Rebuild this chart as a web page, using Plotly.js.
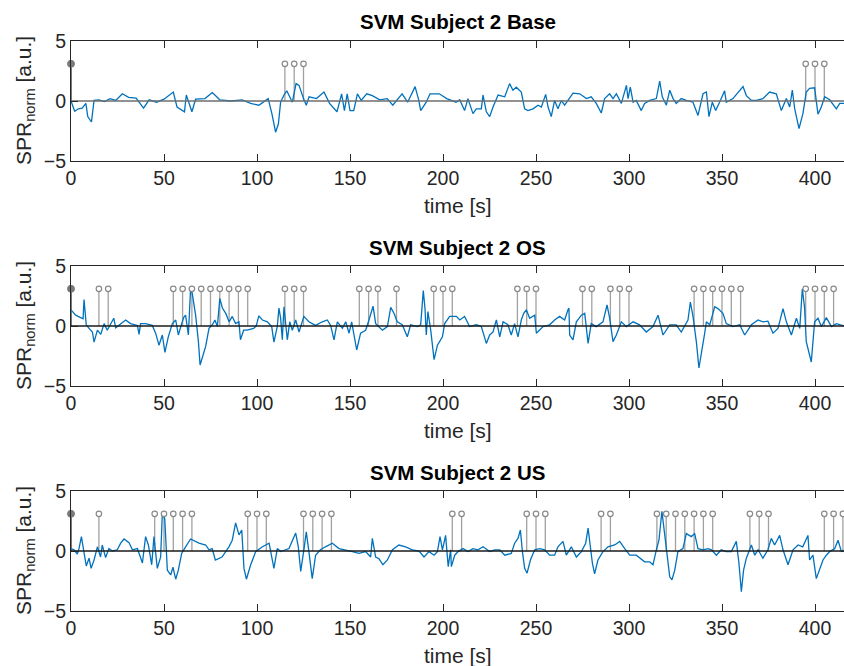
<!DOCTYPE html>
<html>
<head>
<meta charset="utf-8">
<script src="https://cdn.plot.ly/plotly-3.0.1.min.js"></script>
<style>html,body{margin:0;padding:0;background:#fff;}#chart{width:844px;height:666px;}</style>
</head>
<body>
<div id="chart"></div>
<script>
// ---------- data ----------
var titles = ["SVM Subject 2 Base", "SVM Subject 2 OS", "SVM Subject 2 US"];
var xTicks = [0, 50, 100, 150, 200, 250, 300, 350, 400];
var yTicks = [-5, 0, 5];
var stemHeight = 3.1;

// Subject 2 Base
var t1 = [0,2,4,6,8,9,11,12.4,15,18,21,24,27.6,31,35,39,42,46,50,55,57,61,62,65,67,72,76,80,86,92,96.6,101,106,108,110,111.5,112.7,114.5,116,119,121,122.6,125,126.5,128,132,136,139,143,145.5,147,148.5,150,152,154,156,159,162,166,170,173,176,178,181,185,187,188,191,193,198,202,207,
  209,211.6,213.4,216.1,217.9,220.6,221.5,223.3,225.1,226.9,229.6,233.2,235.8,237.6,239.4,242.1,243.9,245.7,248.4,251.1,252.9,255.2,256.5,258.2,260,261.8,263.6,265.4,269.9,273.5,277.1,279.7,282.4,285.1,286.9,289.6,291.4,293.2,295.9,298.6,299.5,300.7,302.2,303.9,306.6,308.4,311.1,314.7,316.5,317.9,320.1,321.9,323.7,325.4,328.1,330.8,334.4,337.1,339.8,341.6,343,344.8,346.6,348.7,351.4,352.3,355.9,361.3,363.1,365.8,368.5,372,375.6,379.2,381.9,384.6,386.4,387.8,389.1,391.4,393.5,395.3,397.1,399.8,401.6,403.4,405.2,407.9,411.5,413.3,415.6];
var v1 = [0,-0.85,-0.65,-0.6,-0.2,-1.3,-1.75,0.05,0.1,-0.05,0.2,0.05,0.6,0.3,0.25,-0.6,0.1,-0.1,0.15,0.75,-0.5,-0.9,0.5,-0.9,0.15,0.2,0.7,0.1,0,0.1,-0.2,-0.35,0.2,-1.05,-2.6,-1.9,-0.1,0.5,0.85,-0.1,1.45,1.3,0.2,-0.35,0.35,0.2,0.75,-0.2,-0.9,0.6,-0.8,0.6,-0.8,-0.8,0.6,0.05,0.6,0.45,0.1,0.2,-0.35,0.2,0.6,-0.1,1.2,0.05,-0.8,-0.1,0.6,0.6,0.2,-0.1,
  0.1,-0.8,0.2,-1.05,-0.65,-0.65,0.5,-0.9,-1.3,-0.5,0.5,0.35,1.45,0.9,1.15,0.75,-0.65,-0.8,-0.65,-0.35,-0.5,0.55,-0.5,-1.3,0.05,-0.65,0.05,-0.35,0.65,0.6,0.2,0.35,-0.2,-1.0,0.2,0.6,0.2,0.6,-0.2,1.3,0.2,1.15,-0.1,0.05,-0.8,-0.2,0.05,0.2,1.65,0.35,-0.35,0.9,0.2,-0.2,0.2,0.05,-0.1,-1.2,0.6,0.75,-1.3,-0.1,-0.8,-0.1,0.85,-0.1,0.2,1.2,0.45,0.05,0.05,0.2,0.75,0.6,-0.8,0.2,-0.5,0.9,-0.65,-2.3,-1.05,0.75,1.05,1.1,-1.1,-0.5,0.35,0.1,-0.65,-0.2,-0.2];
var stems1 = [0, 115, 120, 125, 395, 400, 405];

// Subject 2 OS
var t2 = [0,2.5,5.2,6.5,7,8.2,9.7,11.5,12.4,14.2,16,17.8,19.5,21.3,23,24,26.7,29.4,32,35.7,36.6,37.4,40.1,43.7,45.5,47.3,49.1,50.5,52.3,54.5,56.3,57.7,59.5,60.7,61.6,63.1,64.3,65.2,67,68.5,69.4,71,72.4,74.2,76,77.4,78.7,80,81.4,83.2,85,86.7,88.5,90.3,91.1,92.8,94.6,98.2,99.6,101,102.9,105.6,107.9,109.1,110.9,111.8,112.7,113.6,114.5,116.3,117.6,119,120.8,122.6,125.2,127.9,131.5,135.1,137.8,139.6,141.4,143.2,145.9,147.7,149.5,150.9,153.6,155.7,158.4,160.2,162.4,163.8,165.6,167.4,170.1,171.9,173.7,175.4,178.1,180.8,182.6,186.2,188,189.4,190.3,191,191.9,193.4,195.2,197,199.7,
  200.9,203.6,207.2,209,211.6,214.3,217.9,220.6,223.3,225.1,226.9,228.7,230.5,232.3,234.9,236.7,238.5,240.3,242.1,243.4,244.8,246.6,249.3,250.2,253.8,257.3,260,262.7,265.4,267.2,267.7,268.1,269.9,271.7,274.4,276.2,278,279.7,282.4,286,288.2,289.6,291.4,293.2,295.9,298.6,302.2,305.7,309.3,312.9,315.6,318.3,321.9,325.4,328.1,331.7,333,334.4,336.2,337.6,338.9,340.7,341.6,343.4,346.1,347.8,350.5,352.3,355.9,359.5,362.2,365.8,369.4,372,374.7,377.4,380.1,382.8,384.6,387.3,390,391.8,393.2,394.4,395.3,396.7,398,399.8,401.6,403.4,406.1,408.8,411.5,415.6];
var v2 = [1.35,0.9,0.7,0.6,2.2,0.1,-0.2,-0.5,-1.35,-0.35,-0.7,0.2,-0.35,0.2,0.65,-0.15,0.2,0.5,0.2,0.05,-0.7,0.2,0.2,0.05,-0.6,-1.6,-0.75,-2.2,-0.9,0.2,0.5,-0.75,0.2,0.75,0.9,-0.75,3.15,2.7,0.9,-1.3,-3.25,-2.4,-1.7,-0.2,0.1,0.5,-0.05,2.3,1.5,1.05,0.35,0.8,0.2,0.35,-1.15,-0.35,-0.35,-0.2,0,0.85,0.5,0.35,-0.05,-1.35,-0.05,1.5,0.65,-1.15,1.6,-1.15,0.35,-0.35,0.5,-0.5,0.8,0.35,0.05,0.35,0.5,0.05,-1.15,0.35,-0.2,0.35,-0.6,0.35,-2.0,-0.6,-0.35,0.5,1.65,0.2,-0.05,-0.35,-0.05,1.55,1.05,0.35,0.1,-0.9,0.1,-0.05,0.1,2.95,1.5,-0.75,1.2,-0.35,-2.8,-1.6,-0.9,
  0.2,0.8,0.8,0.5,0.8,-0.05,0.1,-0.05,-1.45,-0.75,-0.5,0.5,-0.9,0.35,0.1,-0.75,0.2,-0.9,0.5,1.05,1.35,0.65,0.9,-0.6,-0.05,0.1,0.5,0.8,0.5,1.35,1.5,-0.75,-1.15,0.35,0.9,1.05,-1.45,0.2,-0.05,0.35,1.75,0.65,-1.3,-0.75,0.35,-0.05,0.35,0.1,-0.5,-0.05,0.9,-0.75,0.1,0.1,-0.5,0.5,2.0,0.8,-1.3,-3.5,-2.4,-0.6,0.35,0.1,1.6,1.45,1.05,0.2,-0.05,0.1,-0.75,0.1,0.5,0.35,0.4,-0.6,-0.2,1.45,0.35,-0.75,0.65,-0.2,3.1,1.5,-1.3,-2.15,-3.0,0.35,0.65,-0.05,0.7,-0.05,0.2,0];
var stems2 = [0,15,20,55,60,65,70,75,80,85,90,95,115,120,125,155,160,165,175,195,200,205,240,245,250,275,280,290,295,300,335,340,345,350,355,360,395,400,405,410];

// Subject 2 US
var t3 = [0,1.6,3.4,4.3,5.6,7,8.2,9.7,10.8,12.4,14.2,15.9,16.8,18.6,20.4,22.2,24.9,26.7,28.5,31.2,33,35.7,38.4,40.1,41.6,43.4,44.6,46.4,48.2,49.1,50.4,51.8,53.6,54.8,56.3,57.7,59.5,61.6,64.3,68.8,72.4,74.2,75.9,77.6,81.2,84.9,86.7,88.5,90.3,91.8,93,94.3,96.6,99.3,102.9,106.5,109.1,110.9,112.7,117.2,120.8,122.2,123.5,125.3,126.5,127.9,129.7,131.5,134.1,136.8,140.5,144.1,147.7,151.3,154.8,158.4,161.1,162,163.8,165.6,167.7,170.1,172.8,176.3,179.9,183.5,187.1,189.8,192.5,195.2,197,198.4,199.7,201.4,202.8,204.1,
  204.5,206.3,208.1,210.8,213.4,216.1,218.8,221.5,225.1,227.8,230.5,233.2,236.7,238.5,240.3,241.6,242.7,243.9,245.2,247,249.3,252,254.7,257.3,260,261.8,264.5,266.3,269,271.7,274.4,276.7,278,279.2,280.3,281.5,283.3,286,288.7,292.3,295,297.7,300.4,303.9,305.7,308.4,311.1,312.9,314.7,316.1,317.7,319.2,320.6,321.9,323.1,324.6,326.3,329,330.8,333.5,335.3,337.1,339.8,342.5,344.3,347,349.6,352.3,355,357.7,359.1,360.4,361.6,363.1,365.8,367.6,369.4,372,374.7,376.5,378.3,381,382.8,385.5,388.2,390.9,393.4,396.2,397.1,398.9,400.7,402.5,404.3,406.1,407.9,410.6,412.4,414.2,415.6];
var v3 = [0.2,0.1,-0.25,0.2,1.2,-0.05,-1.25,-0.6,-1.45,-0.75,0.35,-0.5,0.5,-0.55,0.2,0,0.1,0.65,1.0,0.7,0.1,0.2,-1.0,1.2,0.5,-1.15,1.2,-1.45,-0.5,3.1,2.7,-1.6,-2.0,-1.35,-2.35,-1.6,-0.2,0.35,1.0,0.65,0.5,0.1,0.2,-0.75,-0.5,0.35,0.9,2.35,1.35,1.75,-1.45,-2.35,-1.15,-0.05,0.35,0.65,-1.45,0.2,-0.05,0.2,1.5,0.35,-1.7,0.2,1.6,-0.05,-2.3,-0.35,0.1,0.35,0.65,0.2,0.1,-0.05,-0.2,-0.05,-0.5,1.05,-0.5,-0.65,-1.15,-0.75,0.1,0.5,0.35,0.1,0,-0.5,-0.05,-0.35,-0.05,1.2,0.1,1.3,-1.3,0.1,
  -1.3,-0.35,-0.05,0.2,-0.05,0.2,0.1,0.35,-0.05,0.1,0.1,-0.35,-0.2,0.65,1.05,1.75,-0.05,-1.45,-1.85,-0.75,0.1,0.2,0.1,-0.35,-0.35,0.35,0.8,-0.35,0.35,-0.5,-0.05,0.65,1.9,0.1,-1.0,-1.9,-0.75,-0.05,0.35,0.5,0.8,0.2,-0.35,-0.35,-0.6,-0.9,-0.9,-1.15,0.1,0.9,3.3,1.2,-0.5,-2.15,-2.4,-1.6,-0.05,0.2,1.45,1.2,1.45,0.2,0.1,0.2,0.1,-0.35,0.1,-0.05,-0.05,0.8,-1.0,-3.4,-1.6,-0.6,0.5,-0.35,0.1,-0.6,0.1,1.05,0.5,1.3,0.1,-1.15,0.1,0.5,0.35,1.3,-0.75,-0.35,-2.3,-1.6,-0.75,-0.35,-0.05,0.2,0.9,-0.05,0];
var stems3 = [0,15,45,50,55,60,65,95,100,105,125,130,135,140,205,210,245,250,255,285,290,315,320,325,330,335,340,345,365,370,375,405,410,415];

// ---------- drawing ----------
(function () {
  var tSeries = [t1, t2, t3];
  var vSeries = [v1, v2, v3];
  var stemSeries = [stems1, stems2, stems3];
  var baseColors = ["#6e6e6e", "#1a1a1a", "#1a1a1a"];

  var FONT = "Liberation Sans, Arial, Helvetica, sans-serif";
  var INK = "#262626";
  var W = 844, H = 666, ML = 71, MR = 0, MT = 41, MB = 55;
  var plotH = H - MT - MB;
  var boxTops = [41, 266, 491], boxH = 120;

  var traces = [];
  var layout = {
    width: W, height: H,
    margin: {l: ML, r: MR, t: MT, b: MB, pad: 0},
    paper_bgcolor: "#fff", plot_bgcolor: "#fff",
    showlegend: false,
    font: {family: FONT, size: 17, color: INK},
    annotations: []
  };

  for (var k = 0; k < 3; k++) {
    var sfx = k === 0 ? "" : String(k + 1);
    var xa = "x" + sfx, ya = "y" + sfx;
    var yTop = boxTops[k], yBot = yTop + boxH;
    var d0 = (H - MB - yBot) / plotH, d1 = (H - MB - yTop) / plotH;
    var xMax = (W - ML - MR) / 1.86;

    layout["xaxis" + sfx] = {
      domain: [0, 1], range: [0, xMax], anchor: ya,
      tickvals: xTicks, ticks: "inside", ticklen: 7, tickwidth: 1, tickcolor: INK,
      showline: true, linecolor: INK, linewidth: 1, mirror: "ticks",
      showgrid: false, zeroline: false,
      tickfont: {family: FONT, size: 19.5, color: INK}
    };
    layout["yaxis" + sfx] = {
      domain: [d0, d1], range: [-5, 5], anchor: xa,
      tickvals: yTicks, ticktext: ["\u22125", "0", "5"],
      ticks: "inside", ticklen: 7, tickwidth: 1, tickcolor: INK,
      showline: true, linecolor: INK, linewidth: 1, mirror: false,
      showgrid: false, zeroline: false,
      tickfont: {family: FONT, size: 19.5, color: INK}
    };

    var st = stemSeries[k];
    var sx = [], sy = [];
    for (var i = 1; i < st.length; i++) { sx.push(st[i], st[i], null); sy.push(0, stemHeight, null); }
    traces.push({x: sx, y: sy, xaxis: xa, yaxis: ya, mode: "lines", type: "scatter",
      line: {color: "#a0a0a0", width: 1.3}, hoverinfo: "skip"});
    traces.push({x: [st[0], st[0]], y: [0, stemHeight], xaxis: xa, yaxis: ya, mode: "lines", type: "scatter",
      line: {color: "#7a7a7a", width: 2}, hoverinfo: "skip"});

    traces.push({x: tSeries[k], y: vSeries[k], xaxis: xa, yaxis: ya, mode: "lines", type: "scatter",
      line: {color: "#0072BD", width: 1.3}, hoverinfo: "skip"});

    traces.push({x: [0, xMax], y: [0, 0], xaxis: xa, yaxis: ya, mode: "lines", type: "scatter",
      line: {color: baseColors[k], width: 1.6}, hoverinfo: "skip"});

    traces.push({x: st.slice(1), y: st.slice(1).map(function () { return stemHeight; }), xaxis: xa, yaxis: ya,
      mode: "markers", type: "scatter", cliponaxis: false,
      marker: {symbol: "circle", size: 5.5, color: "#ffffff", line: {color: "#8a8a8a", width: 1.2}}, hoverinfo: "skip"});
    traces.push({x: [st[0]], y: [stemHeight], xaxis: xa, yaxis: ya,
      mode: "markers", type: "scatter", cliponaxis: false,
      marker: {symbol: "circle", size: 7, color: "#7a7a7a", line: {color: "#7a7a7a", width: 1}}, hoverinfo: "skip"});

    layout.annotations.push({text: "<b>" + titles[k] + "</b>", xref: "paper", yref: "paper",
      x: 0.5, y: (H - MB - (yTop - 19)) / plotH, xanchor: "center", yanchor: "middle", showarrow: false,
      font: {family: FONT, size: 20.5, color: "#000"}});
    layout.annotations.push({text: "time [s]", xref: "paper", yref: "paper",
      x: 0.5, y: (H - MB - (yBot + 44)) / plotH, xanchor: "center", yanchor: "middle", showarrow: false,
      font: {family: FONT, size: 21, color: INK}});
    layout.annotations.push({text: "SPR<sub>norm</sub> [a.u.]", xref: "paper", yref: "paper",
      x: (25 - ML) / (W - ML - MR), y: (H - MB - (yTop + boxH / 2)) / plotH,
      xanchor: "center", yanchor: "middle", showarrow: false, textangle: -90,
      font: {family: FONT, size: 21, color: INK}});
  }

  Plotly.newPlot("chart", traces, layout, {staticPlot: true, displayModeBar: false});
})();
</script>
</body>
</html>
